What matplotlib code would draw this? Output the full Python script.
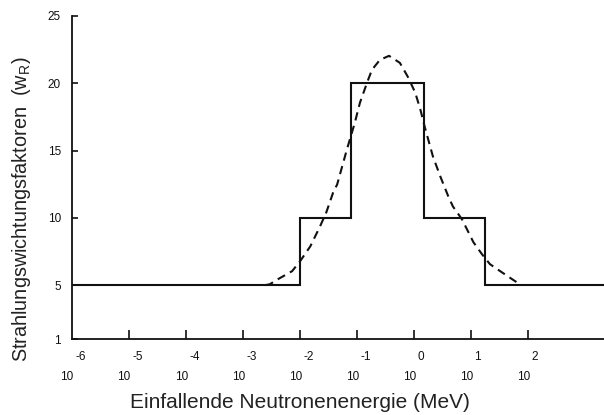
import matplotlib
matplotlib.use('Agg')
import matplotlib.pyplot as plt

plt.rcParams['font.family'] = ['Liberation Sans', 'DejaVu Sans']
plt.rcParams['mathtext.default'] = 'regular'

# step function w_R over log10(E / MeV)
step_edges = [-6.0, -2.0, -1.1, 0.18, 1.25, 3.33]
step_values = [5, 10, 20, 10, 5]

# dashed continuous curve (log10 E, w_R)
curve_x = [-2.61, -2.53, -2.39, -2.14, -2.00, -1.82, -1.65, -1.54, -1.42,
           -1.35, -1.18, -1.04, -0.95, -0.82, -0.74, -0.60, -0.44, -0.25,
           -0.11, 0.02, 0.11, 0.19, 0.33, 0.46, 0.60, 0.68, 0.84, 1.04,
           1.19, 1.33, 1.51, 1.72, 1.86]
curve_y = [5.0, 5.07, 5.44, 6.04, 6.78, 7.89, 9.37, 10.41, 11.89,
           12.48, 15.07, 17.07, 18.56, 20.11, 21.0, 21.74, 22.04, 21.52,
           20.48, 19.30, 18.04, 16.70, 14.56, 13.07, 11.59, 10.85, 9.89, 8.19,
           7.30, 6.56, 6.04, 5.44, 5.05]

x_exponents = [-6, -5, -4, -3, -2, -1, 0, 1, 2]
y_ticks = [1, 5, 10, 15, 20, 25]

fig = plt.figure(figsize=(6.04, 4.15), dpi=100)
ax = fig.add_axes([72 / 604, 1 - 339 / 415, 1 - 72 / 604, (339 - 16) / 415])

ax.stairs(step_values, step_edges, baseline=None, color='#111111', linewidth=1.5)
ax.plot(curve_x, curve_y, color='#111111', linewidth=1.5, linestyle=(0, (4, 2.7)))

ax.set_xlim(-6, 3.33)
ax.set_ylim(1, 25)

for side in ['top', 'right']:
    ax.spines[side].set_visible(False)
for side in ['left', 'bottom']:
    ax.spines[side].set_linewidth(1.3)
    ax.spines[side].set_color('#111111')

ax.set_yticks(y_ticks)
ax.set_yticklabels([str(v) for v in y_ticks])
ax.tick_params(axis='y', direction='in', length=4, width=1.2, pad=8,
               labelsize=8.5, colors='#111111')

ax.set_xticks(x_exponents[1:])
ax.set_xticklabels([])
ax.tick_params(axis='x', direction='in', length=6.5, width=1.2, colors='#111111')

# "10" with the exponent written on the line above, as in the source figure
for e in x_exponents:
    ax.annotate('10', xy=(e, 0), xycoords=('data', 'axes fraction'),
                xytext=(-3.5, -27.5), textcoords='offset points',
                ha='center', va='center', fontsize=8.5, color='#111111')
    ax.annotate(str(e), xy=(e, 0), xycoords=('data', 'axes fraction'),
                xytext=(2.2, -13), textcoords='offset points',
                ha='left', va='center', fontsize=8.5, color='#111111')

fig.text(300 / 604, 1 - 402 / 415, 'Einfallende Neutronenenergie (MeV)',
         ha='center', va='center', fontsize=15, color='#222222')
fig.text(22 / 604, 1 - 209 / 415, 'Strahlungswichtungsfaktoren  (w$_{R}$)',
         ha='center', va='center', rotation=90, fontsize=14.3, color='#222222')

fig.savefig('out.png', dpi=100)
